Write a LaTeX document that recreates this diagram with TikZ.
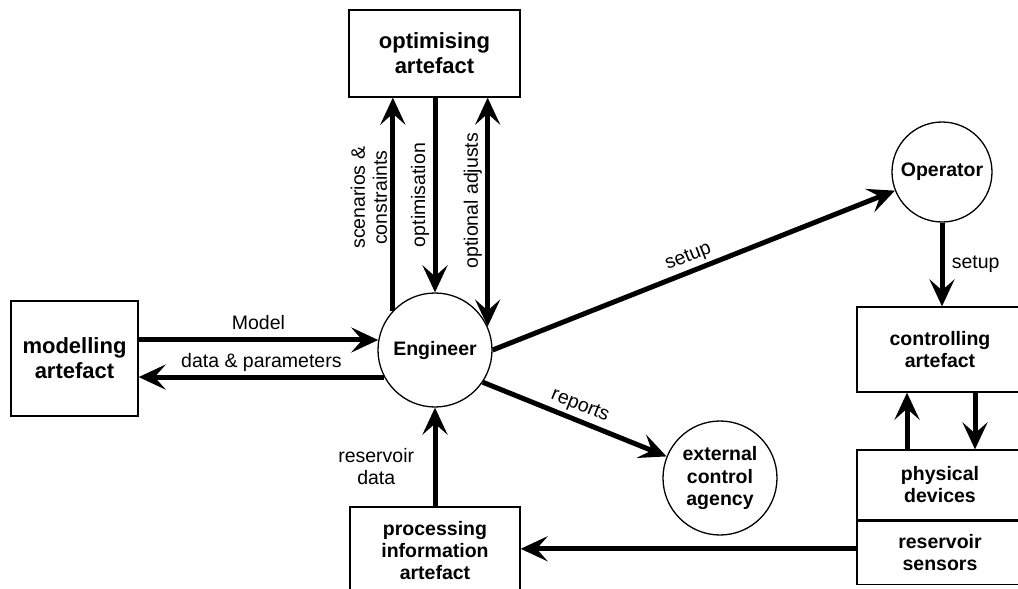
\documentclass[tikz,border=0pt]{standalone}
\usepackage{fontspec}
\setmainfont{Liberation Sans}
\usetikzlibrary{arrows.meta}
\tikzset{>={Stealth[length=27pt,width=25pt,inset=11pt]},
    box/.style={draw, line width=1.3pt, align=center, inner sep=0pt,
        font=\bfseries\fontsize{19.5}{22}\selectfont},
    bigbox/.style={box, font=\bfseries\fontsize{22}{25}\selectfont},
    actor/.style={draw, circle, line width=1.3pt, align=center, inner sep=0pt,
        font=\bfseries\fontsize{19.5}{22.5}\selectfont},
    flow/.style={line width=5pt, ->},
    lbl/.style={align=center, font=\fontsize{19.5}{22}\selectfont},
    vlbl/.style={lbl, rotate=90, anchor=south},
    }
\begin{document}
\begin{tikzpicture}[x=1pt, y=-1pt]
	\useasboundingbox (0,0) rectangle (1018,589);
	% artefacts
	\node[bigbox, minimum width=171pt, minimum height=87pt] (opt) at (434.5,53.5) {optimising\\artefact};
	\node[bigbox, minimum width=127pt, minimum height=115pt] (mod) at (74.5,358.5) {modelling\\artefact};
	\node[box, minimum width=170pt, minimum height=88pt] (proc) at (435,551) {processing\\information\\artefact};
	\node[box, minimum width=166pt, minimum height=85pt] (ctrl) at (940,349.5) {controlling\\artefact};
	\node[box, minimum width=166pt, minimum height=70pt] (phys) at (940,485) {physical\\devices};
	\node[box, minimum width=166pt, minimum height=63pt, anchor=north] (sens) at (phys.south) {reservoir\\sensors};
	% actors
	\node[actor, minimum size=114pt] (eng) at (435,350) {Engineer};
	\node[actor, minimum size=100pt] (op) at (942,172) {Operator};
	\node[actor, minimum size=114pt] (ext) at (720,478) {external\\control\\agency};
	% flows
	\draw[flow] (eng.137) -- node[vlbl, pos=0.53] {scenarios \&\\constraints} (eng.137 |- opt.south);
	\draw[flow] (opt.south -| eng.north) -- node[vlbl] {optimisation} (eng.north);
	\draw[flow, <->] (eng.24) -- node[vlbl, pos=0.55] {optional adjusts} (eng.24 |- opt.south);
	\draw[flow] (mod.east |- eng.170) -- node[lbl, above=4pt] {Model} (eng.170);
	\draw[flow] (eng.208) -- node[lbl, above] {data \& parameters} (eng.208 -| mod.east);
	\draw[flow] (eng.east) -- node[lbl, sloped, above] {setup} (op);
	\draw[flow] (op.south) -- node[lbl, right=4pt] {setup} (op.south |- ctrl.north);
	\draw[flow] (eng.-34) -- node[lbl, sloped, above] {reports} (ext);
	\draw[flow] ([xshift=-33pt]phys.north) -- ([xshift=-33pt]ctrl.south);
	\draw[flow] ([xshift=35pt]ctrl.south) -- ([xshift=35pt]phys.north);
	\draw[flow] ([yshift=4pt]sens.west) -- ([yshift=4pt]sens.west -| proc.east);
	\draw[flow] (proc.north) -- node[lbl, left=15pt, pos=0.4] {reservoir\\data} (eng.south);
\end{tikzpicture}
\end{document}
